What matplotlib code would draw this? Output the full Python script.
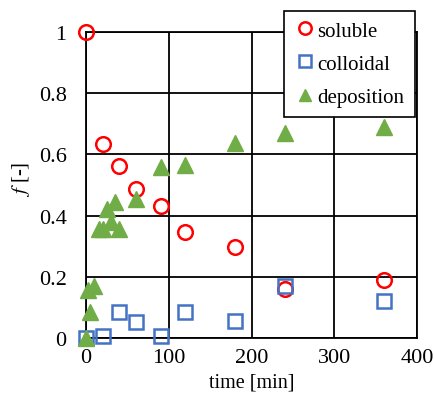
import matplotlib.pyplot as plt
from matplotlib.ticker import FuncFormatter

plt.rcParams['font.family'] = ['Liberation Serif', 'DejaVu Serif']
plt.rcParams['mathtext.fontset'] = 'stix'

# soluble fraction
t_sol = [0, 20, 40, 60, 90, 120, 180, 240, 360]
f_sol = [1.0, 0.634, 0.562, 0.487, 0.431, 0.346, 0.297, 0.16, 0.19]

# colloidal fraction
t_col = [0, 20, 40, 60, 90, 120, 180, 240, 360]
f_col = [0.0, 0.005, 0.085, 0.053, 0.005, 0.085, 0.056, 0.17, 0.12]

# deposition fraction
t_dep = [0, 5, 2, 9, 15, 20, 25, 30, 35, 40, 60, 90, 120, 180, 240, 360]
f_dep = [0.0, 0.085, 0.155, 0.17, 0.356, 0.356, 0.42, 0.38, 0.445, 0.355,
         0.455, 0.56, 0.565, 0.637, 0.67, 0.69]

fig = plt.figure(figsize=(4.35, 4.02), dpi=100)
ax = fig.add_axes([0.198, 0.157, 0.761, 0.761])

ax.plot(t_sol, f_sol, 'o', ms=10.5, mfc='none', mec='#FF0000', mew=1.8,
        clip_on=False, zorder=3, label='soluble')
ax.plot(t_col, f_col, 's', ms=10.5, mfc='none', mec='#4472C4', mew=1.8,
        clip_on=False, zorder=3, label='colloidal')
ax.plot(t_dep, f_dep, '^', ms=11, color='#70AD47', mec='#70AD47',
        clip_on=False, zorder=3, label='deposition')

ax.set_xlim(0, 400)
ax.set_ylim(0, 1)
ax.set_xticks([0, 100, 200, 300, 400])
ax.set_yticks([0, 0.2, 0.4, 0.6, 0.8, 1])
ax.yaxis.set_major_formatter(FuncFormatter(lambda v, p: '%g' % v))
ax.tick_params(length=0, labelsize=16)
ax.tick_params(axis='y', pad=14)
ax.tick_params(axis='x', pad=7)
ax.grid(True, color='black', linewidth=1.3)
ax.set_axisbelow(True)
for s in ax.spines.values():
    s.set_linewidth(1.3)

ax.set_xlabel('time [min]', fontsize=14.5, labelpad=4)
ax.set_ylabel(r'$f$ [-]', fontsize=15)
ax.yaxis.set_label_coords(-0.165, 0.52)

leg = ax.legend(loc='upper right', bbox_to_anchor=(0.993, 1.07), fontsize=15,
                fancybox=False, edgecolor='black', framealpha=1,
                handlelength=1.0, handletextpad=0.1, labelspacing=0.65,
                borderpad=0.5, borderaxespad=0, markerscale=0.85)
leg.get_frame().set_linewidth(1.2)
leg.set_zorder(5)

fig.savefig('out.png', dpi=100)
